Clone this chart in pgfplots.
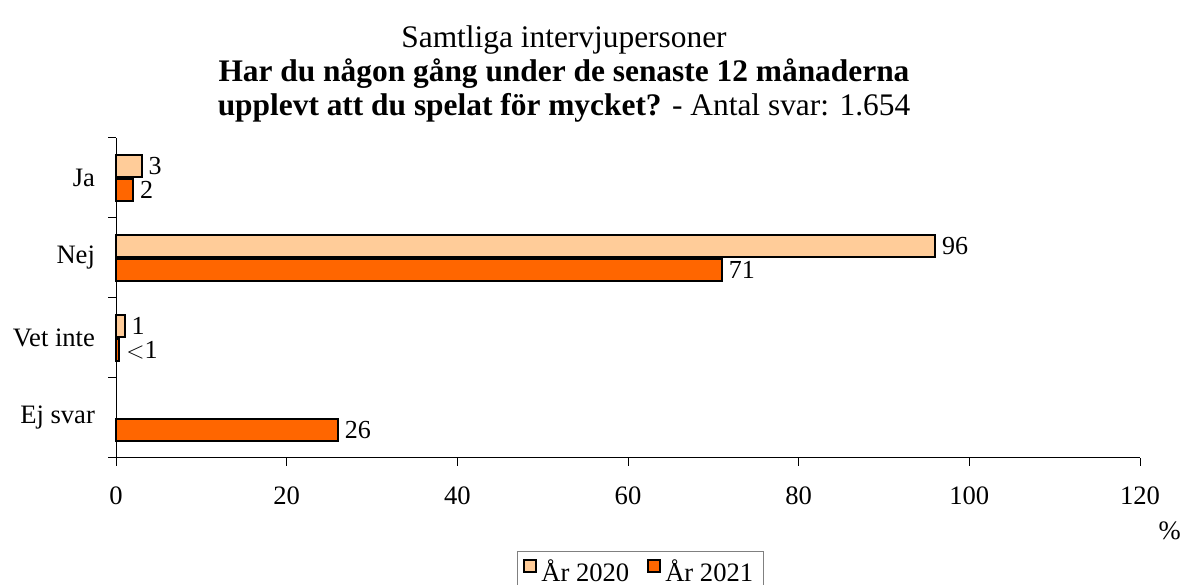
\documentclass[border=0pt]{standalone}
\usepackage{fontspec}
\setmainfont{Liberation Serif}
\usepackage{pgfplots}
\pgfplotsset{compat=1.18}
\definecolor{c2020}{HTML}{FFCC99}
\definecolor{c2021}{HTML}{FF6600}
\begin{document}
\begin{tikzpicture}
\begin{axis}[
    name=ax,
    scale only axis, width=512pt, height=160pt,
    xbar, bar width=11pt,
    xmin=0, xmax=120, xtick={0,20,...,120},
    ymin=-0.5, ymax=3.5, y dir=reverse,
    ytick={-0.5,0.5,1.5,2.5,3.5}, yticklabels={},
    extra y ticks={0,1,2,3},
    extra y tick labels={Ja,Nej,Vet inte,Ej svar},
    extra y tick style={major tick length=0pt},
    axis x line*=bottom, axis y line*=left,
    tick align=outside, major tick length=4pt,
    tick style={black, line width=0.5pt},
    axis line style={black, line width=0.5pt},
    /pgf/number format/assume math mode=true,
    tick label style={font=\fontsize{13.3}{15}\selectfont},
    xticklabel style={yshift=-7pt},
    yticklabel style={xshift=-7pt},
    point meta=explicit symbolic,
    nodes near coords,
    every node near coord/.append style={font=\fontsize{13}{14}\selectfont,
        anchor=west, inner xsep=3pt, inner ysep=0pt},
    legend style={at={(0.512,-0.29)}, anchor=north, legend columns=2,
        draw=gray, line width=0.5pt, font=\fontsize{13.3}{15}\selectfont,
        inner xsep=3pt, inner ysep=2pt,
        /tikz/every even column/.append style={column sep=7pt}},
    legend image code/.code={\draw[#1, line width=1pt] (0pt,0pt) rectangle (6pt,6pt);},
    clip=false,
]
\addplot[draw=black, line width=1pt, fill=c2020, bar shift=6pt]
    coordinates {(3,0) [3] (96,1) [96] (1,2) [1]};
\addplot[draw=black, line width=1pt, fill=c2021, bar shift=-6pt]
    coordinates {(2,0) [2] (71,1) [71] (0.4,2) [{$<$1}] (26,3) [26]};
\legend{År 2020, År 2021}
\node[anchor=south, align=center, inner xsep=0pt, inner ysep=4pt, yshift=3.5pt,
      font=\fontsize{15.7}{17.2}\selectfont]
    at (rel axis cs:0.4375,1)
    {Samtliga intervjupersoner\\
     \textbf{Har du någon gång under de senaste 12 månaderna}\\
     \textbf{upplevt att du spelat för mycket?} - Antal svar: 1.654};
\node[font=\fontsize{13.3}{15}\selectfont] at (rel axis cs:1.029,-0.228) {\%};
\end{axis}
\pgfresetboundingbox
\path[use as bounding box] ([shift={(-58pt,-63.5pt)}]ax.south west)
    rectangle ([shift={(20.5pt,69pt)}]ax.north east);
\end{tikzpicture}
\end{document}
